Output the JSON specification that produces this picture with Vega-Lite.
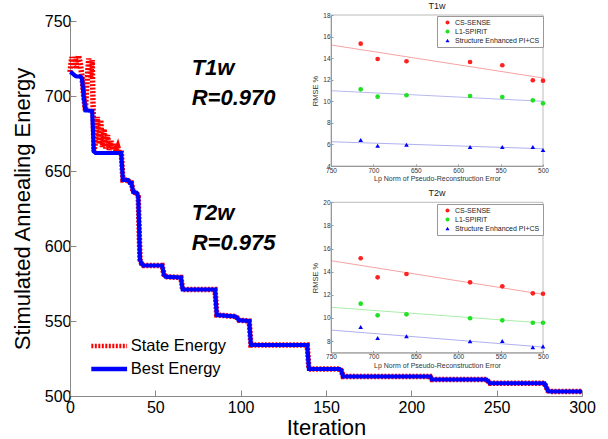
{
  "$schema": "https://vega.github.io/schema/vega-lite/v6.json",
  "width": 512,
  "height": 375,
  "autosize": {"type": "none"},
  "padding": {"left": 70, "top": 21, "right": 26, "bottom": 43},
  "background": "white",
  "config": {
    "font": "Liberation Sans",
    "view": {"stroke": null},
    "axis": {"grid": false, "labelFont": "Liberation Sans", "titleFont": "Liberation Sans"},
    "legend": {"labelFont": "Liberation Sans"}
  },
  "layer": [
    {
      "encoding": {
        "x": {"field": "it", "type": "quantitative",
          "scale": {"domain": [0, 300], "nice": false, "zero": false},
          "axis": {"orient": "bottom", "values": [0, 50, 100, 150, 200, 250, 300], "title": "Iteration",
            "titleFontSize": 22, "titleFontWeight": "normal", "titleColor": "black", "titlePadding": 2.5,
            "labelFontSize": 16, "labelColor": "black", "labelFlush": false, "labelPadding": 9,
            "tickSize": -6, "tickColor": "#888", "domainColor": "#888"}},
        "y": {"field": "E", "type": "quantitative",
          "scale": {"domain": [500, 750], "nice": false, "zero": false},
          "axis": {"orient": "left", "values": [500, 550, 600, 650, 700, 750], "title": "Stimulated Annealing Energy",
            "titleFontSize": 22, "titleFontWeight": "normal", "titleColor": "black", "titlePadding": 10,
            "labelFontSize": 16, "labelColor": "black", "labelPadding": 5,
            "tickSize": -6, "tickColor": "#888", "domainColor": "#888"}}
      },
      "layer": [
        {
          "data": {"values": [
            {"it":0,"E":716},{"it":1,"E":726},{"it":2,"E":719},{"it":3,"E":726},{"it":4,"E":718},{"it":5,"E":727},{"it":6,"E":722},{"it":7,"E":713},{"it":8,"E":700},{"it":9,"E":690.5},{"it":10,"E":710},{"it":11,"E":725},{"it":12,"E":712},{"it":13,"E":724},{"it":14,"E":663},{"it":15,"E":670},{"it":16,"E":686},{"it":17,"E":668},{"it":18,"E":684},{"it":19,"E":666},{"it":20,"E":678},{"it":21,"E":665},{"it":22,"E":674},{"it":23,"E":664},{"it":24,"E":670},{"it":25,"E":664},{"it":26,"E":668},{"it":27,"E":663},{"it":28,"E":666},{"it":29,"E":662},{"it":30,"E":664},{"it":31,"E":644},
            {"it":34,"E":644},{"it":35,"E":642},{"it":36,"E":642},{"it":37,"E":636},{"it":39,"E":635.5},{"it":40,"E":633},{"it":41,"E":591},{"it":42,"E":588},{"it":43,"E":587},{"it":54,"E":587},{"it":55,"E":581},{"it":56,"E":579.5},{"it":65,"E":579},{"it":66,"E":571},{"it":85,"E":571},{"it":86,"E":554},{"it":97,"E":553},{"it":98,"E":552},{"it":99,"E":550.5},{"it":105,"E":550},{"it":106,"E":534},{"it":139,"E":534},{"it":140,"E":518},{"it":158,"E":518},{"it":159,"E":517},{"it":160,"E":513},{"it":211,"E":513},{"it":212,"E":511},{"it":244,"E":511},{"it":246,"E":508.5},{"it":278,"E":508.5},{"it":279,"E":506},{"it":280,"E":503.5},{"it":281,"E":503},{"it":300,"E":503}
          ]},
          "mark": {"type": "line", "strokeWidth": 5.5},
          "encoding": {
            "color": {"datum": "State Energy", "scale": {"domain": ["State Energy", "Best Energy"], "range": ["#ff0000", "#0000ff"]},
              "legend": {"orient": "none", "legendX": 25.7, "legendY": 311.5, "title": null, "labelFontSize": 16.5, "symbolType": "M-1.6,0H1.6", "symbolSize": 500, "symbolStrokeWidth": 4.5, "labelOffset": 8, "rowPadding": 0, "padding": 0, "labelColor": "black"}},
            "strokeDash": {"datum": "State Energy", "scale": {"domain": ["State Energy", "Best Energy"], "range": [[2, 1.5], [1, 0]]},
              "legend": {"orient": "none", "legendX": 25.7, "legendY": 311.5, "title": null, "labelFontSize": 16.5, "symbolType": "M-1.6,0H1.6", "symbolSize": 500, "symbolStrokeWidth": 4.5, "labelOffset": 8, "rowPadding": 0, "padding": 0, "labelColor": "black"}}
          }
        },
        {
          "data": {"values": [
            {"it":0,"E":716},{"it":1,"E":715.5},{"it":2,"E":714.5},{"it":3,"E":713.5},{"it":4,"E":713},{"it":6,"E":713},{"it":7,"E":712},{"it":8,"E":700},{"it":9,"E":690.5},{"it":13,"E":690},{"it":14,"E":663},{"it":15,"E":662},{"it":30,"E":662},{"it":31,"E":644},
            {"it":34,"E":644},{"it":35,"E":642},{"it":36,"E":642},{"it":37,"E":636},{"it":39,"E":635.5},{"it":40,"E":633},{"it":41,"E":591},{"it":42,"E":588},{"it":43,"E":587},{"it":54,"E":587},{"it":55,"E":581},{"it":56,"E":579.5},{"it":65,"E":579},{"it":66,"E":571},{"it":85,"E":571},{"it":86,"E":554},{"it":97,"E":553},{"it":98,"E":552},{"it":99,"E":550.5},{"it":105,"E":550},{"it":106,"E":534},{"it":139,"E":534},{"it":140,"E":518},{"it":158,"E":518},{"it":159,"E":517},{"it":160,"E":513},{"it":211,"E":513},{"it":212,"E":511},{"it":244,"E":511},{"it":246,"E":508.5},{"it":278,"E":508.5},{"it":279,"E":506},{"it":280,"E":503.5},{"it":281,"E":503},{"it":300,"E":503}
          ]},
          "mark": {"type": "line", "strokeWidth": 4.2},
          "encoding": {
            "color": {"datum": "Best Energy", "scale": {"domain": ["State Energy", "Best Energy"], "range": ["#ff0000", "#0000ff"]}},
            "strokeDash": {"datum": "Best Energy", "scale": {"domain": ["State Energy", "Best Energy"], "range": [[2, 1.5], [1, 0]]}}
          }
        },
        {
          "data": {"values": [
            {"it": 71.3, "E": 718.7, "label": "T1w"},
            {"it": 71.3, "E": 698.7, "label": "R=0.970"},
            {"it": 71.3, "E": 622, "label": "T2w"},
            {"it": 71.3, "E": 602, "label": "R=0.975"}
          ]},
          "mark": {"type": "text", "align": "left", "baseline": "middle", "fontSize": 22, "fontWeight": "bold", "fontStyle": "italic", "color": "black"},
          "encoding": {"text": {"field": "label"}}
        }
      ]
    },
    {
      "encoding": {
        "x": {"field": "lp", "type": "quantitative",
          "scale": {"domain": [500, 750], "range": [473, 261], "nice": false, "zero": false},
          "axis": {"orient": "bottom", "offset": -230, "zindex": 1, "values": [750, 700, 650, 600, 550, 500],
            "title": "Lp Norm of Pseudo-Reconstruction Error", "titleFontSize": 7, "titleFontWeight": "normal", "titleColor": "#333", "titlePadding": 1,
            "labelFontSize": 6.5, "labelColor": "#333", "labelFlush": false, "labelPadding": 3,
            "tickSize": -2, "tickColor": "#999", "domainColor": "#999"}},
        "y": {"field": "r", "type": "quantitative",
          "scale": {"domain": [4, 18], "range": [145, -6], "nice": false, "zero": false},
          "axis": {"orient": "left", "offset": -261, "zindex": 1, "values": [4, 6, 8, 10, 12, 14, 16, 18],
            "title": "RMSE %", "titleFontSize": 7.5, "titleFontWeight": "normal", "titleColor": "#333", "titlePadding": 3,
            "labelFontSize": 6.5, "labelColor": "#333", "labelPadding": 3,
            "tickSize": -2, "tickColor": "#999", "domainColor": "#999"}}
      },
      "layer": [
        {"data": {"values": [{"lp": 750, "r": 4, "lp2": 500, "r2": 18}]},
         "mark": {"type": "rect", "fill": "white", "stroke": "#aaa", "strokeWidth": 0.8},
         "encoding": {"x2": {"field": "lp2"}, "y2": {"field": "r2"}}},
        {"data": {"values": [{"lp": 750, "r": 15.22}, {"lp": 500, "r": 12.16}]},
         "mark": {"type": "line", "color": "#f5a3a3", "strokeWidth": 1}},
        {"data": {"values": [{"lp": 750, "r": 10.98}, {"lp": 500, "r": 10.0}]},
         "mark": {"type": "line", "color": "#b8b8f0", "strokeWidth": 1}},
        {"data": {"values": [{"lp": 750, "r": 6.25}, {"lp": 500, "r": 5.6}]},
         "mark": {"type": "line", "color": "#b0b0f0", "strokeWidth": 1}},
        {"data": {"values": [
            {"lp":715,"r":15.34,"m":"CS-SENSE"},{"lp":695,"r":13.92,"m":"CS-SENSE"},{"lp":661,"r":13.71,"m":"CS-SENSE"},{"lp":586,"r":13.64,"m":"CS-SENSE"},{"lp":548,"r":13.34,"m":"CS-SENSE"},{"lp":512,"r":11.95,"m":"CS-SENSE"},{"lp":500,"r":11.91,"m":"CS-SENSE"},
            {"lp":715,"r":11.11,"m":"L1-SPIRiT"},{"lp":695,"r":10.43,"m":"L1-SPIRiT"},{"lp":661,"r":10.56,"m":"L1-SPIRiT"},{"lp":586,"r":10.49,"m":"L1-SPIRiT"},{"lp":548,"r":10.40,"m":"L1-SPIRiT"},{"lp":512,"r":10.09,"m":"L1-SPIRiT"},{"lp":500,"r":9.81,"m":"L1-SPIRiT"},
            {"lp":715,"r":6.41,"m":"Structure Enhanced PI+CS"},{"lp":695,"r":5.88,"m":"Structure Enhanced PI+CS"},{"lp":661,"r":5.97,"m":"Structure Enhanced PI+CS"},{"lp":586,"r":5.76,"m":"Structure Enhanced PI+CS"},{"lp":548,"r":5.76,"m":"Structure Enhanced PI+CS"},{"lp":512,"r":5.76,"m":"Structure Enhanced PI+CS"},{"lp":500,"r":5.48,"m":"Structure Enhanced PI+CS"}
          ]},
         "mark": {"type": "point", "filled": true, "size": 22, "opacity": 1},
         "encoding": {
           "color": {"field": "m", "type": "nominal", "scale": {"domain": ["CS-SENSE", "L1-SPIRiT", "Structure Enhanced PI+CS"], "range": ["#ff2020", "#22e022", "#0000ff"]},
             "legend": {"orient": "none", "legendX": 367, "legendY": -5, "title": null, "labelFontSize": 7, "labelColor": "#222", "symbolSize": 16, "padding": 3, "rowPadding": 1, "strokeColor": "#999", "fillColor": "white", "symbolOffset": 4, "labelOffset": 4}},
           "shape": {"field": "m", "type": "nominal", "scale": {"domain": ["CS-SENSE", "L1-SPIRiT", "Structure Enhanced PI+CS"], "range": ["circle", "circle", "triangle-up"]},
             "legend": {"orient": "none", "legendX": 367, "legendY": -5, "title": null, "labelFontSize": 7, "labelColor": "#222", "symbolSize": 16, "padding": 3, "rowPadding": 1, "strokeColor": "#999", "fillColor": "white", "symbolOffset": 4, "labelOffset": 4}}
         }},
        {"data": {"values": [{"lp": 625, "r": 18.83, "t": "T1w"}]},
         "mark": {"type": "text", "fontSize": 9, "color": "#222", "baseline": "middle"},
         "encoding": {"text": {"field": "t"}}}
      ]
    },
    {
      "encoding": {
        "x": {"field": "lp", "type": "quantitative",
          "scale": {"domain": [500, 750], "range": [473, 261], "nice": false, "zero": false},
          "axis": {"orient": "bottom", "offset": -43.4, "zindex": 1, "values": [750, 700, 650, 600, 550, 500],
            "title": "Lp Norm of Pseudo-Reconstruction Error", "titleFontSize": 7, "titleFontWeight": "normal", "titleColor": "#333", "titlePadding": 1,
            "labelFontSize": 6.5, "labelColor": "#333", "labelFlush": false, "labelPadding": 3,
            "tickSize": -2, "tickColor": "#999", "domainColor": "#999"}},
        "y": {"field": "r", "type": "quantitative",
          "scale": {"domain": [7, 20], "range": [331.6, 181.3], "nice": false, "zero": false},
          "axis": {"orient": "left", "offset": -261, "zindex": 1, "values": [8, 10, 12, 14, 16, 18, 20],
            "title": "RMSE %", "titleFontSize": 7.5, "titleFontWeight": "normal", "titleColor": "#333", "titlePadding": 3,
            "labelFontSize": 6.5, "labelColor": "#333", "labelPadding": 3,
            "tickSize": -2, "tickColor": "#999", "domainColor": "#999"}}
      },
      "layer": [
        {"data": {"values": [{"lp": 750, "r": 7, "lp2": 500, "r2": 20}]},
         "mark": {"type": "rect", "fill": "white", "stroke": "#aaa", "strokeWidth": 0.8},
         "encoding": {"x2": {"field": "lp2"}, "y2": {"field": "r2"}}},
        {"data": {"values": [{"lp": 750, "r": 14.95}, {"lp": 500, "r": 12.04}]},
         "mark": {"type": "line", "color": "#f5a3a3", "strokeWidth": 1}},
        {"data": {"values": [{"lp": 750, "r": 10.92}, {"lp": 500, "r": 9.56}]},
         "mark": {"type": "line", "color": "#a8eea8", "strokeWidth": 1}},
        {"data": {"values": [{"lp": 750, "r": 8.95}, {"lp": 500, "r": 7.48}]},
         "mark": {"type": "line", "color": "#b0b0f0", "strokeWidth": 1}},
        {"data": {"values": [
            {"lp":715,"r":15.16,"m":"CS-SENSE"},{"lp":695,"r":13.51,"m":"CS-SENSE"},{"lp":661,"r":13.80,"m":"CS-SENSE"},{"lp":586,"r":13.08,"m":"CS-SENSE"},{"lp":548,"r":12.73,"m":"CS-SENSE"},{"lp":512,"r":12.13,"m":"CS-SENSE"},{"lp":500,"r":12.09,"m":"CS-SENSE"},
            {"lp":715,"r":11.23,"m":"L1-SPIRiT"},{"lp":695,"r":10.22,"m":"L1-SPIRiT"},{"lp":661,"r":10.31,"m":"L1-SPIRiT"},{"lp":586,"r":9.97,"m":"L1-SPIRiT"},{"lp":548,"r":9.79,"m":"L1-SPIRiT"},{"lp":512,"r":9.58,"m":"L1-SPIRiT"},{"lp":500,"r":9.58,"m":"L1-SPIRiT"},
            {"lp":715,"r":9.21,"m":"Structure Enhanced PI+CS"},{"lp":695,"r":8.26,"m":"Structure Enhanced PI+CS"},{"lp":661,"r":8.41,"m":"Structure Enhanced PI+CS"},{"lp":586,"r":7.98,"m":"Structure Enhanced PI+CS"},{"lp":548,"r":8.00,"m":"Structure Enhanced PI+CS"},{"lp":512,"r":7.46,"m":"Structure Enhanced PI+CS"},{"lp":500,"r":7.54,"m":"Structure Enhanced PI+CS"}
          ]},
         "mark": {"type": "point", "filled": true, "size": 22, "opacity": 1},
         "encoding": {
           "color": {"field": "m", "type": "nominal", "scale": {"domain": ["CS-SENSE", "L1-SPIRiT", "Structure Enhanced PI+CS"], "range": ["#ff2020", "#22e022", "#0000ff"]},
             "legend": {"orient": "none", "legendX": 367, "legendY": 183, "title": null, "labelFontSize": 7, "labelColor": "#222", "symbolSize": 16, "padding": 3, "rowPadding": 1, "strokeColor": "#999", "fillColor": "white", "symbolOffset": 4, "labelOffset": 4}},
           "shape": {"field": "m", "type": "nominal", "scale": {"domain": ["CS-SENSE", "L1-SPIRiT", "Structure Enhanced PI+CS"], "range": ["circle", "circle", "triangle-up"]},
             "legend": {"orient": "none", "legendX": 367, "legendY": 183, "title": null, "labelFontSize": 7, "labelColor": "#222", "symbolSize": 16, "padding": 3, "rowPadding": 1, "strokeColor": "#999", "fillColor": "white", "symbolOffset": 4, "labelOffset": 4}}
         }},
        {"data": {"values": [{"lp": 625, "r": 20.78, "t": "T2w"}]},
         "mark": {"type": "text", "fontSize": 9, "color": "#222", "baseline": "middle"},
         "encoding": {"text": {"field": "t"}}}
      ]
    }
  ],
  "resolve": {
    "scale": {"x": "independent", "y": "independent", "color": "independent", "shape": "independent", "strokeDash": "independent"},
    "axis": {"x": "independent", "y": "independent"},
    "legend": {"color": "independent", "shape": "independent", "strokeDash": "independent"}
  }
}
